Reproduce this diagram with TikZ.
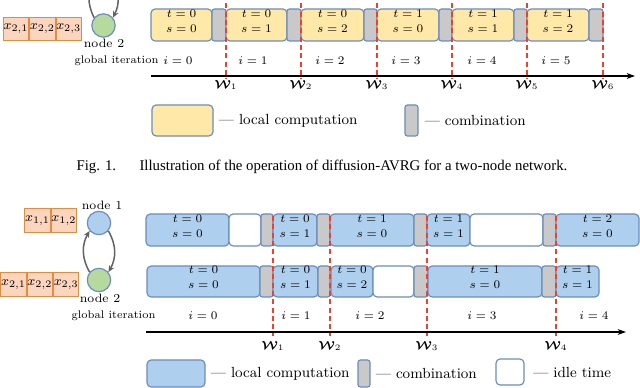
\documentclass[tikz,border=0pt]{standalone}
\usepackage{amsmath,amssymb}
\usepackage{fontspec}
\newfontfamily\capfont{Liberation Serif}
\usetikzlibrary{positioning,arrows.meta,fit}
\definecolor{compfill}{HTML}{FFE8A8}
\definecolor{bluefill}{HTML}{AFCFEE}
\definecolor{combfill}{HTML}{C9C9C9}
\definecolor{edgeblue}{HTML}{6A8CBE}
\definecolor{datafill}{HTML}{FBD5BE}
\definecolor{dataline}{HTML}{E58B3F}
\definecolor{greenfill}{HTML}{B6DA9E}
\definecolor{markred}{HTML}{F0402A}
\definecolor{arrowgray}{HTML}{626262}
\newcommand{\Wv}[1]{$\boldsymbol{\mathcal{W}}_{#1}$}

\begin{document}
\begin{tikzpicture}[x=0.6pt, y=-0.6pt,
  every node/.style={font=\fontsize{7.3}{9}\selectfont},
  blk/.style={draw=edgeblue, line width=0.7pt, rounded corners=2.5pt, inner sep=0pt, align=center, font=\fontsize{6.9}{9}\selectfont},
  comp/.style={blk, fill=compfill},
  bcomp/.style={blk, fill=bluefill},
  comb/.style={blk, fill=combfill, rounded corners=1.5pt},
  idle/.style={blk, fill=white},
  cell/.style={draw=dataline, fill=datafill, line width=0.6pt, minimum width=15.2pt, minimum height=14pt, inner sep=0pt, font=\fontsize{8.5}{10}\selectfont},
  agent/.style={circle, draw=edgeblue, line width=0.7pt, minimum size=14pt, inner sep=0pt},
  flow/.style={-{Stealth[length=4pt,width=3.5pt]}, draw=arrowgray, line width=0.9pt},
  timeaxis/.style={-{Stealth[length=5pt,width=3.5pt]}, line width=1pt},
  wline/.style={draw=markred, dashed, line width=0.8pt, dash pattern=on 3pt off 2pt},
  legtext/.style={font=\fontsize{8.8}{10}\selectfont, inner sep=0pt},
  small/.style={font=\fontsize{6.6}{8}\selectfont}
]
\useasboundingbox (0,0) rectangle (640,388);
\clip (0,0) rectangle (640,388);

% ---------- upper figure: two-node network ----------
\node[cell] (x21) at (16,29) {$x_{2,1}$};
\node[cell, right=0pt of x21] (x22) {$x_{2,2}$};
\node[cell, right=0pt of x22] (x23) {$x_{2,3}$};
\node[agent, fill=greenfill] (tn2) at (103.5,25.5) {};
\node (tl2) at (104,43.5) {node 2};
\coordinate (tn1a) at (96,-22.7);
\coordinate (tn1b) at (111,-22.7);
\draw[flow] (tn2.140) to[bend left=30] (tn1a);
\draw[flow] (tn1b) to[bend left=30] (tn2.40);
\node[small] (tgi) at (116.5,61) {global iteration};

% Computation / combination blocks
\node[comp, fit={(151,9) (212,41)}] (ta0) {$t=0$\\$s=0$};
\node[comb, fit={(212,9) (226,41)}] (tg0) {};
\node[comp, fit={(226,9) (287,41)}] (ta1) {$t=0$\\$s=1$};
\node[comb, fit={(287,9) (301,41)}] (tg1) {};
\node[comp, fit={(301,9) (364,41)}] (ta2) {$t=0$\\$s=2$};
\node[comb, fit={(364,9) (377,41)}] (tg2) {};
\node[comp, fit={(377,9) (439,41)}] (ta3) {$t=1$\\$s=0$};
\node[comb, fit={(439,9) (452,41)}] (tg3) {};
\node[comp, fit={(452,9) (514,41)}] (ta4) {$t=1$\\$s=1$};
\node[comb, fit={(514,9) (527,41)}] (tg4) {};
\node[comp, fit={(527,9) (589,41)}] (ta5) {$t=1$\\$s=2$};
\node[comb, fit={(589,9) (603,41)}] (tg5) {};

% Iteration labels
\node (ti0) at (178,61) {$i=0$};
\node (ti1) at (253,61) {$i=1$};
\node (ti2) at (330,61) {$i=2$};
\node (ti3) at (406,61) {$i=3$};
\node (ti4) at (482,61) {$i=4$};
\node (ti5) at (556,61) {$i=5$};

% Time axis and combination instants
\coordinate (tax0) at (151,76);
\coordinate (tax1) at (635,76);
\draw[timeaxis] (tax0) -- (tax1);
\draw[wline] (226,-5) -- (226,79);
\draw[wline] (301,-5) -- (301,79);
\draw[wline] (377,-5) -- (377,79);
\draw[wline] (452,-5) -- (452,79);
\draw[wline] (527,-5) -- (527,79);
\draw[wline] (603,-5) -- (603,79);
\node (tw1) at (226,85) {\Wv{1}};
\node (tw2) at (301,85) {\Wv{2}};
\node (tw3) at (377,85) {\Wv{3}};
\node (tw4) at (452,85) {\Wv{4}};
\node (tw5) at (527,85) {\Wv{5}};
\node (tw6) at (603,85) {\Wv{6}};

% Legend
\node[comp, fit={(152,105) (213,136)}] (tlc) {};
\node[legtext, right=3pt of tlc] (tlct) {--- local computation};
\node[comb, fit={(405,105) (418,136)}] (tlg) {};
\node[legtext, right=3.5pt of tlg] (tlgt) {--- combination};

% Caption
\node[font=\capfont\fontsize{8.9}{10}\selectfont] (cap) at (322,167) {Fig. 1.\hspace{14pt}Illustration of the operation of diffusion-AVRG for a two-node network.};

% ---------- lower figure ----------
\node[cell] (x11) at (37.5,220.5) {$x_{1,1}$};
\node[cell, right=0pt of x11] (x12) {$x_{1,2}$};
\node[cell] (bx21) at (13.5,284.5) {$x_{2,1}$};
\node[cell, right=0pt of bx21] (bx22) {$x_{2,2}$};
\node[cell, right=0pt of bx22] (bx23) {$x_{2,3}$};
\node[agent, fill=bluefill] (n1) at (99,223) {};
\node[agent, fill=greenfill] (n2) at (99,280) {};
\node (l1) at (102,205) {node 1};
\node (l2) at (100,298) {node 2};
\draw[flow] (n2.140) to[bend left=30] (n1.220);
\draw[flow] (n1.-40) to[bend left=30] (n2.40);
\node[small] (bgi) at (113.5,316) {global iteration};

% Node 1 row
\node[bcomp, fit={(146,214) (229,246)}] (r1a) {$t=0$\\$s=0$};
\node[idle, fit={(229,214) (261,246)}] (r1b) {};
\node[comb, fit={(261,214) (273,246)}] (r1c) {};
\node[bcomp, fit={(273,214) (317,246)}] (r1d) {$t=0$\\$s=1$};
\node[comb, fit={(317,214) (330,246)}] (r1e) {};
\node[bcomp, fit={(330,214) (414,246)}] (r1f) {$t=1$\\$s=0$};
\node[comb, fit={(414,214) (427,246)}] (r1g) {};
\node[bcomp, fit={(427,214) (470,246)}] (r1h) {$t=1$\\$s=1$};
\node[idle, fit={(470,214) (543,246)}] (r1i) {};
\node[comb, fit={(543,214) (556,246)}] (r1j) {};
\node[bcomp, fit={(556,214) (639,246)}] (r1k) {$t=2$\\$s=0$};

% Node 2 row
\node[bcomp, fit={(147,266) (260,297)}] (r2a) {$t=0$\\$s=0$};
\node[comb, fit={(260,266) (273,297)}] (r2b) {};
\node[bcomp, fit={(273,266) (318,297)}] (r2c) {$t=0$\\$s=1$};
\node[comb, fit={(318,266) (330,297)}] (r2d) {};
\node[bcomp, fit={(331,266) (373,297)}] (r2e) {$t=0$\\$s=2$};
\node[idle, fit={(373,266) (414,297)}] (r2f) {};
\node[comb, fit={(414,266) (428,297)}] (r2g) {};
\node[bcomp, fit={(428,266) (542,297)}] (r2h) {$t=1$\\$s=0$};
\node[comb, fit={(542,266) (556,297)}] (r2i) {};
\node[bcomp, fit={(556,266) (599,297)}] (r2j) {$t=1$\\$s=1$};

% Iteration labels
\node (bi0) at (203,316) {$i=0$};
\node (bi1) at (296,316) {$i=1$};
\node (bi2) at (370,316) {$i=2$};
\node (bi3) at (482,316) {$i=3$};
\node (bi4) at (594,316) {$i=4$};

% Time axis and combination instants
\coordinate (bax0) at (146,332);
\coordinate (bax1) at (626,332);
\draw[timeaxis] (bax0) -- (bax1);
\draw[wline] (273,216) -- (273,336);
\draw[wline] (330,216) -- (330,336);
\draw[wline] (427,216) -- (427,336);
\draw[wline] (556,216) -- (556,336);
\node (bw1) at (273,346) {\Wv{1}};
\node (bw2) at (330,346) {\Wv{2}};
\node (bw3) at (427,346) {\Wv{3}};
\node (bw4) at (556,346) {\Wv{4}};

% Legend
\node[bcomp, fit={(147,360) (205,387)}] (blc) {};
\node[legtext, right=3pt of blc] (blct) {--- local computation};
\node[comb, fit={(358,360) (370,387)}] (blg) {};
\node[legtext, right=3pt of blg] (blgt) {--- combination};
\node[idle, fit={(496,359) (524,385)}] (bli) {};
\node[legtext, right=5pt of bli] (blit) {--- idle time};
\end{tikzpicture}
\end{document}
